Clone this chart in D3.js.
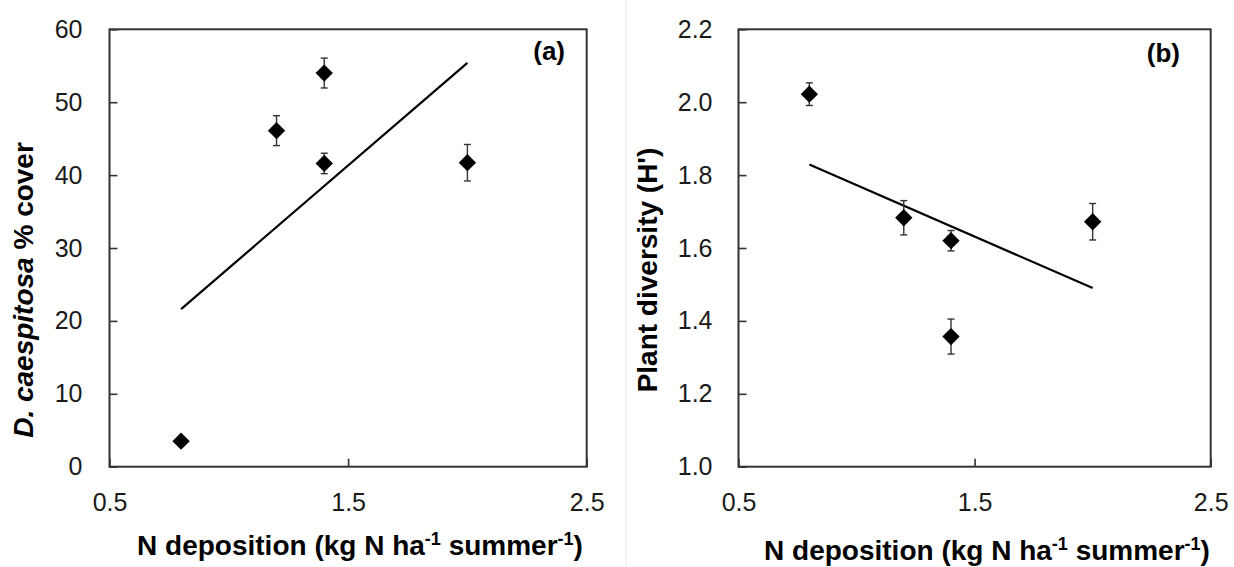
<!DOCTYPE html>
<html>
<head>
<meta charset="utf-8">
<script src="https://cdn.jsdelivr.net/npm/d3@7"></script>
<style>
  html, body { margin: 0; padding: 0; background: #fff; }
  svg { display: block; font-family: "Liberation Sans", Arial, sans-serif; }
</style>
</head>
<body>
<svg id="chart" width="1234" height="567"></svg>
<script>
// N deposition at each site (kg N ha-1 summer-1)
const deposition = [0.8, 1.2, 1.4, 1.4, 2.0];

// (a) D. caespitosa cover, mean and standard error
const coverMean = [3.5, 46.1, 54.0, 41.6, 41.7];
const coverSE = [0.5, 2.05, 2.05, 1.4, 2.5];

// (b) Shannon plant diversity (H'), mean and standard error
const diversityMean = [2.022, 1.683, 1.620, 1.357, 1.672];
const diversitySE = [0.031, 0.047, 0.028, 0.048, 0.05];

// Axis ticks
const xTicks = [0.5, 1.5, 2.5];
const coverTicks = [0, 10, 20, 30, 40, 50, 60];
const diversityTicks = [1.0, 1.2, 1.4, 1.6, 1.8, 2.0, 2.2];

const svg = d3.select("#chart");

// Ordinary least-squares fit through the site means
function leastSquares(xs, ys) {
  const mx = d3.mean(xs), my = d3.mean(ys);
  const sxy = d3.sum(xs, (x, i) => (x - mx) * (ys[i] - my));
  const sxx = d3.sum(xs, x => (x - mx) * (x - mx));
  const slope = sxy / sxx;
  return x => my + slope * (x - mx);
}

function panel(opts) {
  const g = svg.append("g");
  const x = d3.scaleLinear().domain([0.5, 2.5]).range([opts.left, opts.right]);
  const y = d3.scaleLinear().domain(opts.yDomain).range([opts.bottom, opts.top]);

  // x axis, ticks pointing into the plot
  const xAxis = d3.axisBottom(x).tickValues(xTicks).tickFormat(d3.format(".1f"))
    .tickSize(-8).tickSizeOuter(0).tickPadding(27);
  const gx = g.append("g").attr("transform", `translate(0,${opts.bottom})`).call(xAxis);
  gx.select(".domain").remove();
  gx.selectAll(".tick line").attr("stroke", "#333").attr("stroke-width", 1.6);
  gx.selectAll("text").attr("font-size", 25).attr("fill", "#1a1a1a");

  // y axis
  const yAxis = d3.axisLeft(y).tickValues(opts.yTicks).tickFormat(opts.yFormat)
    .tickSize(-8).tickSizeOuter(0).tickPadding(opts.yPad);
  const gy = g.append("g").attr("transform", `translate(${opts.left},0)`).call(yAxis);
  gy.select(".domain").remove();
  gy.selectAll(".tick line").attr("stroke", "#333").attr("stroke-width", 1.6);
  gy.selectAll("text").attr("font-size", 25).attr("fill", "#1a1a1a");

  // plot frame
  g.append("rect")
    .attr("x", opts.left).attr("y", opts.top)
    .attr("width", opts.right - opts.left).attr("height", opts.bottom - opts.top)
    .attr("fill", "none").attr("stroke", "#333").attr("stroke-width", 2);

  // regression line over the range of the data
  const fit = leastSquares(deposition, opts.mean);
  const xr = d3.extent(deposition);
  g.append("line")
    .attr("x1", x(xr[0])).attr("y1", y(fit(xr[0])))
    .attr("x2", x(xr[1])).attr("y2", y(fit(xr[1])))
    .attr("stroke", "#000").attr("stroke-width", 2.2);

  // error bars
  const pts = deposition.map((d, i) => ({ x: d, m: opts.mean[i], e: opts.se[i] }));
  const eb = g.append("g").attr("stroke", "#333").attr("stroke-width", 1.4);
  pts.forEach(p => {
    eb.append("line").attr("x1", x(p.x)).attr("x2", x(p.x))
      .attr("y1", y(p.m - p.e)).attr("y2", y(p.m + p.e));
    [p.m - p.e, p.m + p.e].forEach(v => {
      eb.append("line").attr("x1", x(p.x) - 3.5).attr("x2", x(p.x) + 3.5)
        .attr("y1", y(v)).attr("y2", y(v));
    });
  });

  // diamond markers
  const diamond = d3.symbol().type(d3.symbolSquare).size(150);
  g.append("g").selectAll("path").data(pts).join("path")
    .attr("d", diamond)
    .attr("transform", p => `translate(${x(p.x)},${y(p.m)}) rotate(45)`)
    .attr("fill", "#000");

  // panel letter
  g.append("text").attr("x", opts.letterX).attr("y", opts.letterY)
    .attr("text-anchor", "end").attr("font-size", 26).attr("font-weight", "bold")
    .attr("fill", "#000").text(opts.letter);

  // x title with superscripts
  const xt = g.append("text").attr("x", opts.xTitleX).attr("y", opts.xTitleY)
    .attr("text-anchor", "middle").attr("font-size", 28).attr("font-weight", "bold")
    .attr("fill", "#000");
  xt.append("tspan").text("N deposition (kg N ha");
  xt.append("tspan").attr("font-size", 18).attr("dy", -10).text("-1");
  xt.append("tspan").attr("dy", 10).text(" summer");
  xt.append("tspan").attr("font-size", 18).attr("dy", -10).text("-1");
  xt.append("tspan").attr("dy", 10).text(")");

  // y title
  const yt = g.append("text")
    .attr("transform", `translate(${opts.yTitleX},${opts.yTitleY}) rotate(-90)`)
    .attr("text-anchor", "middle").attr("font-size", 28).attr("font-weight", "bold")
    .attr("fill", "#000");
  opts.yTitle(yt);
}

// separator between the two panels
svg.append("line").attr("x1", 626).attr("x2", 626).attr("y1", 0).attr("y2", 567)
  .attr("stroke", "#ececec").attr("stroke-width", 1);

panel({
  left: 109.5, right: 586.7, top: 29.3, bottom: 466.7,
  yDomain: [0, 60], yTicks: coverTicks, yFormat: d3.format("d"), yPad: 27,
  mean: coverMean, se: coverSE,
  letter: "(a)", letterX: 565, letterY: 60,
  xTitleX: 360, xTitleY: 555,
  yTitleX: 33, yTitleY: 290,
  yTitle: t => {
    t.append("tspan").attr("font-style", "italic").text("D. caespitosa");
    t.append("tspan").text(" % cover");
  }
});

panel({
  left: 738.5, right: 1210.7, top: 29.3, bottom: 466.7,
  yDomain: [1.0, 2.2], yTicks: diversityTicks, yFormat: d3.format(".1f"), yPad: 26,
  mean: diversityMean, se: diversitySE,
  letter: "(b)", letterX: 1180, letterY: 62,
  xTitleX: 987, xTitleY: 560,
  yTitleX: 657, yTitleY: 270,
  yTitle: t => t.text("Plant diversity (H')")
});
</script>
</body>
</html>
